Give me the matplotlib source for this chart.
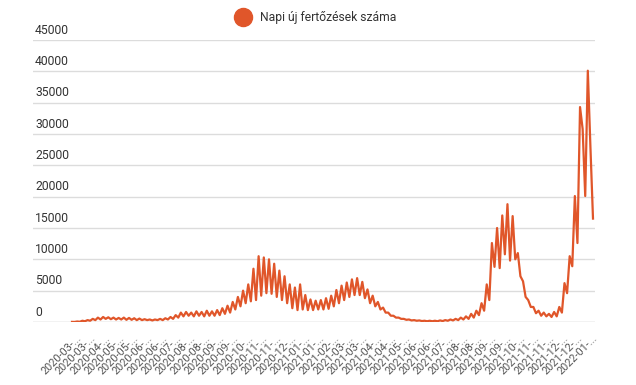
import numpy as np
import matplotlib
matplotlib.use("Agg")
import matplotlib.pyplot as plt
from matplotlib.lines import Line2D

plt.rcParams['font.family'] = ['Roboto', 'DejaVu Sans']

# napi uj fertozesek, ket ertek hetente (csucs, volgy), leolvasva a kepről
cases = [
    20, 10, 80, 40, 200, 120, 300, 200, 500, 300,
    700, 400, 800, 500, 750, 450, 700, 400, 650, 400,
    700, 350, 650, 350, 600, 300, 550, 300, 450, 300,
    400, 250, 400, 300, 500, 300, 600, 400, 800, 500,
    1100, 700, 1500, 900, 1600, 1000, 1500, 900, 1700, 1000,
    1600, 900, 1800, 1000, 1700, 1000, 1900, 1100, 2200, 1300,
    2600, 1500, 3200, 2000, 4000, 2500, 5000, 3000, 6000, 3300,
    8500, 3500, 10500, 4200, 10300, 4600, 10000, 4500, 9300, 4000,
    8200, 3500, 7300, 3000, 6000, 2200, 5500, 1900, 6000, 2000,
    4300, 1900, 3600, 1900, 3400, 2000, 3500, 2000, 3800, 2100,
    4200, 2500, 5100, 3000, 5800, 3500, 6300, 4000, 6800, 4300,
    7000, 4300, 6400, 3800, 5200, 3000, 4200, 2500, 3200, 2000,
    2300, 1500, 1500, 1000, 1000, 700, 700, 500, 500, 350,
    400, 250, 300, 200, 250, 150, 200, 120, 200, 120,
    200, 120, 250, 150, 300, 200, 400, 250, 500, 300,
    700, 400, 900, 500, 1300, 700, 1800, 1100, 3000, 1800,
    6000, 3500, 12600, 8800, 15000, 8600, 17000, 10800, 18800, 9800,
    16900, 10000, 11000, 7300, 6500, 4000, 3500, 2400, 2400, 1400,
    1800, 1000, 1500, 900, 1300, 800, 1600, 900, 2400, 1500,
    6200, 4600, 10500, 8900, 20100, 12600, 34300, 30800, 20100, 40100,
    28000, 16500,
]

x_labels = [
    "2020-03-...", "2020-03-...", "2020-04-...", "2020-05-...", "2020-05-...",
    "2020-06-...", "2020-06-...", "2020-07-...", "2020-08-...", "2020-08-...",
    "2020-09-...", "2020-09-...", "2020-10-...", "2020-11-...", "2020-11-...",
    "2020-12-...", "2021-01-...", "2021-01-...", "2021-02-...", "2021-03-...",
    "2021-03-...", "2021-04-...", "2021-04-...", "2021-05-...", "2021-06-...",
    "2021-06-...", "2021-07-...", "2021-08-...", "2021-08-...", "2021-09-...",
    "2021-09-...", "2021-10-...", "2021-11-...", "2021-11-...", "2021-12-...",
    "2021-12-...", "2022-01-...",
]

y_ticks = [0, 5000, 10000, 15000, 20000, 25000, 30000, 35000, 40000, 45000]
series_name = "Napi új fertőzések száma"
line_color = "#e0562a"

W, H = 636, 385
fig = plt.figure(figsize=(W / 100, H / 100), dpi=100)
ax_left, ax_right = 33, 595
ax_top, ax_bottom = 40, 322
ax = fig.add_axes([ax_left / W, 1 - ax_bottom / H, (ax_right - ax_left) / W, (ax_bottom - ax_top) / H])

days = np.arange(len(cases)) * 3.5
ax.plot(days, cases, color=line_color, lw=1.6, solid_joinstyle='round')

# pixel -> nap atvaltas
data_x0, data_x1 = 72, 593
scale = (data_x1 - data_x0) / days[-1]
ax.set_xlim(-(data_x0 - ax_left) / scale, days[-1] + (ax_right - data_x1) / scale)
ax.set_ylim(0, 45000)

for v in y_ticks:
    ax.axhline(v, color="#bdbdbd" if v == 0 else "#dcdcdc", lw=1, zorder=0)
    ax.annotate(str(v), xy=(0, v), xycoords=('axes fraction', 'data'),
                xytext=(1.5, 2.5), textcoords='offset points',
                ha='left', va='bottom', fontsize=8.7, color="#333333")

tick_px = np.linspace(76, 592, len(x_labels))
ticks = (tick_px - data_x0) / scale
ax.set_xticks(ticks)
ax.set_xticklabels(x_labels, rotation=45, ha='right', va='top',
                   rotation_mode='anchor', fontsize=7.8, color="#555555")
ax.tick_params(axis='x', length=0, pad=8)
ax.set_yticks([])
for s in ax.spines.values():
    s.set_visible(False)

handle = Line2D([], [], marker='o', color=line_color, linestyle='none', markersize=13)
fig.legend([handle], [series_name], loc='center', bbox_to_anchor=(314 / W, 1 - 18 / H),
           frameon=False, fontsize=8.7, handletextpad=0.4, labelcolor="#333333")

fig.savefig("out.png", dpi=100)
